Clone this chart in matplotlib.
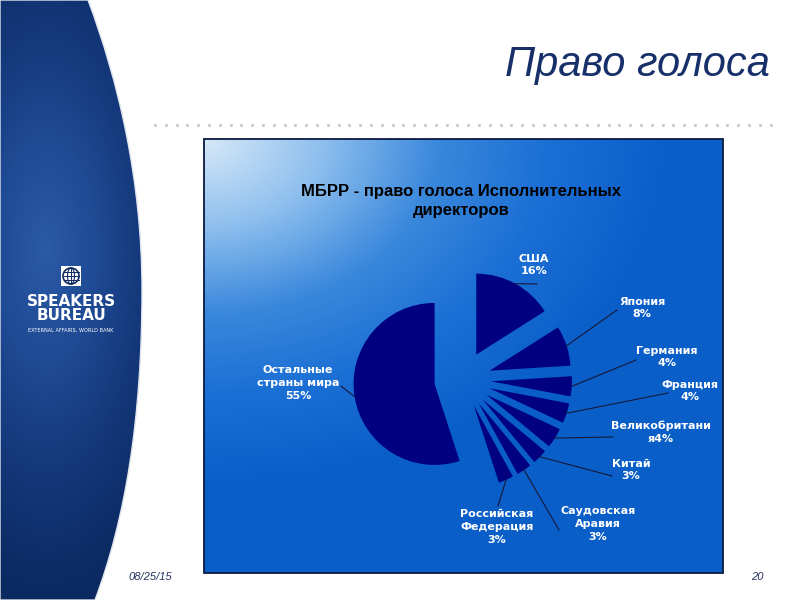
import numpy as np
import matplotlib.pyplot as plt
from matplotlib.colors import LinearSegmentedColormap
from matplotlib.path import Path
from matplotlib.patches import PathPatch, Rectangle, Circle, Ellipse

# data
countries = ['США', 'Япония', 'Германия', 'Франция', 'Великобритания',
             'Китай', 'Саудовская Аравия', 'Российская Федерация',
             'Остальные страны мира']
label_names = ['США', 'Япония', 'Германия', 'Франция', 'Великобритани\nя',
               'Китай', 'Саудовская\nАравия', 'Российская\nФедерация',
               'Остальные\nстраны мира']
pct_sep = ['\n', '\n', '\n', '\n', '', '\n', '\n', '\n', '\n']
shares = [16, 8, 4, 4, 4, 3, 3, 3, 55]

# label placement on the slide (pixels)
label_pos = [(534, 265), (642, 308), (667, 357), (690, 391), (661, 432),
             (631, 470), (598, 524), (497, 527), (298, 383)]
leader_from = [(537, 284), (617, 310), (636, 360), (668, 393), (613, 437),
               (612, 476), (559, 530), (498, 506), (341, 386)]

W, H = 800, 600
PC = (462.6, 379.5)   # pie centre in pixels
R = 81.0              # pie radius in pixels

fig = plt.figure(figsize=(8, 6), dpi=100)
fig.patch.set_facecolor('white')

# ---- slide background (pixel coords) ----
ax0 = fig.add_axes([0, 0, 1, 1])
ax0.set_xlim(0, W)
ax0.set_ylim(H, 0)
ax0.axis('off')

# left blue panel with curved edge
verts = [(0, 0), (88, 0), (118, 80), (142, 180), (142, 290),
         (142, 420), (125, 520), (95, 600), (0, 600), (0, 0)]
codes = [Path.MOVETO, Path.LINETO, Path.CURVE4, Path.CURVE4, Path.CURVE4,
         Path.CURVE4, Path.CURVE4, Path.CURVE4, Path.LINETO, Path.CLOSEPOLY]
panel = PathPatch(Path(verts, codes), facecolor='none', edgecolor='#dfe4ee',
                  lw=1.0, zorder=2)
ax0.add_patch(panel)
yy, xx = np.mgrid[0:600:2, 0:150:2]
d = np.sqrt(((xx - 45) / 150.0) ** 2 + ((yy - 250) / 340.0) ** 2)
panel_cmap = LinearSegmentedColormap.from_list(
    'panel', ['#2b5aa6', '#1f4a94', '#133779', '#0c2a62'])
im = ax0.imshow(np.clip(d, 0, 1), cmap=panel_cmap, vmin=0, vmax=1,
                extent=(0, 150, 600, 0), aspect='auto', zorder=1)
im.set_clip_path(panel)

# logo
ax0.add_patch(Rectangle((61, 266), 20, 20, facecolor='white', zorder=3))
ax0.add_patch(Circle((71, 276), 8, facecolor='none', edgecolor='#0f2a60',
                     lw=1.2, zorder=4))
ax0.add_patch(Ellipse((71, 276), 7, 16, facecolor='none', edgecolor='#0f2a60',
                      lw=0.8, zorder=4))
for gy in (272, 276, 280):
    ax0.plot([63.5, 78.5], [gy, gy], color='#0f2a60', lw=0.7, zorder=4)
ax0.plot([71, 71], [268, 284], color='#0f2a60', lw=0.7, zorder=4)
ax0.text(71, 302, 'SPEAKERS', ha='center', va='center', color='white',
         fontsize=11, fontweight='bold', family='DejaVu Sans', zorder=4)
ax0.text(71, 316, 'BUREAU', ha='center', va='center', color='white',
         fontsize=11, fontweight='bold', family='DejaVu Sans', zorder=4)
ax0.text(71, 330, 'EXTERNAL AFFAIRS, WORLD BANK', ha='center', va='center',
         color='white', fontsize=3.6, family='DejaVu Sans', zorder=4)

# slide title and dotted rule
ax0.text(770, 76, 'Право голоса', ha='right', va='baseline', fontsize=30,
         style='italic', color='#17306a', family='Liberation Sans')
dot_x = np.arange(155, 772, 10.8)
ax0.scatter(dot_x, np.full(len(dot_x), 125), s=5, color='#c3c9d3',
            linewidths=0, zorder=3)

# footer
ax0.text(150, 577, '08/25/15', ha='center', va='center', fontsize=8,
         style='italic', color='#24335e', family='Liberation Sans')
ax0.text(757, 577, '20', ha='center', va='center', fontsize=8,
         style='italic', color='#24335e', family='Liberation Sans')

# chart area with gradient
bx0, by0, bx1, by1 = 204, 139, 723, 573
v, u = np.mgrid[0:1:200j, 0:1:240j]
t = np.clip(np.sqrt((u / 0.9) ** 2 + (v / 0.8) ** 2), 0, 1)
box_cmap = LinearSegmentedColormap.from_list(
    'box', [(0, '#d6e8f8'), (0.25, '#8ebfee'), (0.5, '#3a88dc'),
            (0.75, '#1a6ed4'), (1, '#0a5ec8')])
ax0.imshow(t, cmap=box_cmap, vmin=0, vmax=1, extent=(bx0, bx1, by1, by0),
           aspect='auto', zorder=1)
ax0.add_patch(Rectangle((bx0, by0), bx1 - bx0, by1 - by0, fill=False,
                        edgecolor='#0a1a40', lw=1.3, zorder=3))

ax0.text(461, 201, 'МБРР - право голоса Исполнительных\nдиректоров',
         ha='center', va='center', fontsize=12, fontweight='bold',
         family='Liberation Sans', color='black', linespacing=1.3, zorder=4)

# ---- pie (1 data unit = R pixels) ----
ax = fig.add_axes([0, 0, 1, 1])
ax.set_facecolor('none')
wedges, _ = ax.pie(shares, explode=[0.35] * len(shares), startangle=90,
                   counterclock=False, colors=['#000080'] * len(shares),
                   wedgeprops=dict(linewidth=0))
ax.set_xlim(-PC[0] / R, (W - PC[0]) / R)
ax.set_ylim(-(H - PC[1]) / R, PC[1] / R)
ax.set_aspect('equal')
ax.axis('off')


def px2d(px, py):
    return (px - PC[0]) / R, (PC[1] - py) / R


for w, name, sep, val, lp, lf in zip(wedges, label_names, pct_sep, shares,
                                      label_pos, leader_from):
    mid = np.deg2rad((w.theta1 + w.theta2) / 2)
    cx, cy = w.center
    ex, ey = cx + w.r * np.cos(mid), cy + w.r * np.sin(mid)
    sx, sy = px2d(*lf)
    ax.plot([sx, ex], [sy, ey], color='#15183a', lw=0.8)
    tx, ty = px2d(*lp)
    ax.text(tx, ty, f'{name}{sep}{val}%', ha='center', va='center',
            color='white', fontsize=8, fontweight='bold',
            family='DejaVu Sans', linespacing=1.35)

fig.savefig('out.png', dpi=100)
